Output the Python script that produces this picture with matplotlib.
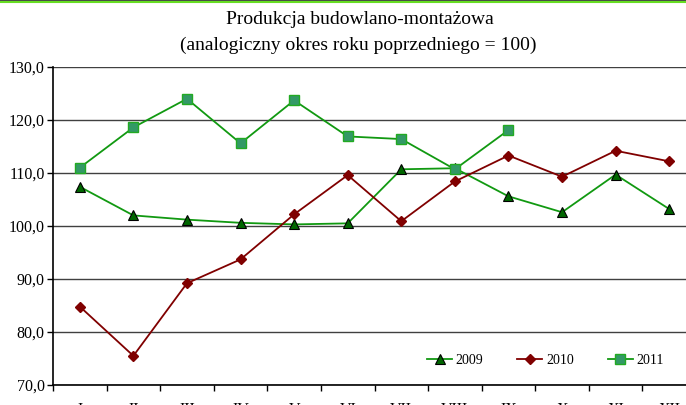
import numpy as np
import matplotlib
matplotlib.use("Agg")
import matplotlib.pyplot as plt
from matplotlib.lines import Line2D

months = ["I", "II", "III", "IV", "V", "VI", "VII", "VIII", "IX", "X", "XI", "XII"]
y2009 = [107.4, 102.0, 101.2, 100.6, 100.3, 100.5, 110.7, 110.9, 105.6, 102.6, 109.7, 103.2]
y2010 = [84.8, 75.5, 89.2, 93.7, 102.2, 109.6, 100.9, 108.4, 113.3, 109.3, 114.2, 112.2]
y2011 = [111.0, 118.6, 124.0, 115.6, 123.7, 116.9, 116.4, 110.7, 118.1]

plt.rcParams['font.family'] = ['Liberation Serif', 'DejaVu Serif']

fig = plt.figure(figsize=(6.86, 4.05), dpi=100)
ax = fig.add_axes([53 / 686, 20 / 405, 643 / 686, 318 / 405])

x = np.arange(len(months))

# gridlines
ax.set_ylim(70, 130)
ax.set_yticks(np.arange(70, 131, 10))
ax.yaxis.grid(True, color="#404040", linewidth=1.0)
ax.set_axisbelow(True)

ax.plot(x, y2009, color="#119911", linewidth=1.3, marker="^", markersize=6.5,
        markerfacecolor="#006600", markeredgecolor="black", markeredgewidth=0.8,
        label="2009")
ax.plot(x, y2010, color="#800000", linewidth=1.3, marker="D", markersize=5.5,
        markerfacecolor="#800000", markeredgecolor="#800000", label="2010")
ax.plot(np.arange(len(y2011)), y2011, color="#119911", linewidth=1.3, marker="s",
        markersize=6.5, markerfacecolor="#339966", markeredgecolor="#22aa22",
        markeredgewidth=1.0, label="2011")

# category axis: ticks between categories
ax.set_xlim(-0.5, len(months) - 0.5)
ax.set_xticks(np.arange(-0.5, len(months), 1.0))
ax.set_xticklabels([])
ax.set_xticks(x, minor=True)
ax.set_xticklabels(months, minor=True, fontsize=11.5)
ax.tick_params(axis="x", which="major", direction="out", length=4, width=1, color="black")
ax.tick_params(axis="x", which="minor", length=0, pad=12)
ax.tick_params(axis="y", direction="out", length=4, width=1, labelsize=11.5, pad=2)
ax.set_yticklabels([f"{v:.1f}".replace(".", ",") for v in np.arange(70, 131, 10)])

for s in ["top", "right"]:
    ax.spines[s].set_visible(False)
ax.spines["left"].set_linewidth(1.2)
ax.spines["bottom"].set_linewidth(1.2)

ax.legend(loc="center right", bbox_to_anchor=(0.969, 0.078), ncol=3, frameon=False,
          fontsize=10, handlelength=1.8, columnspacing=2.45, handletextpad=0.25)

fig.text(360 / 686, 1 - 19 / 405, "Produkcja budowlano-montażowa", ha="center",
         va="center", fontsize=14)
fig.text(358 / 686, 1 - 45 / 405, "(analogiczny okres roku poprzedniego = 100)",
         ha="center", va="center", fontsize=14)

# border lines at the very top
fig.add_artist(Line2D([0, 1], [1 - 0.5 / 405, 1 - 0.5 / 405], color="#222222", linewidth=1.2))
fig.add_artist(Line2D([0, 1], [1 - 2 / 405, 1 - 2 / 405], color="#66dd22", linewidth=1.5))

fig.savefig("out.png", dpi=100)
